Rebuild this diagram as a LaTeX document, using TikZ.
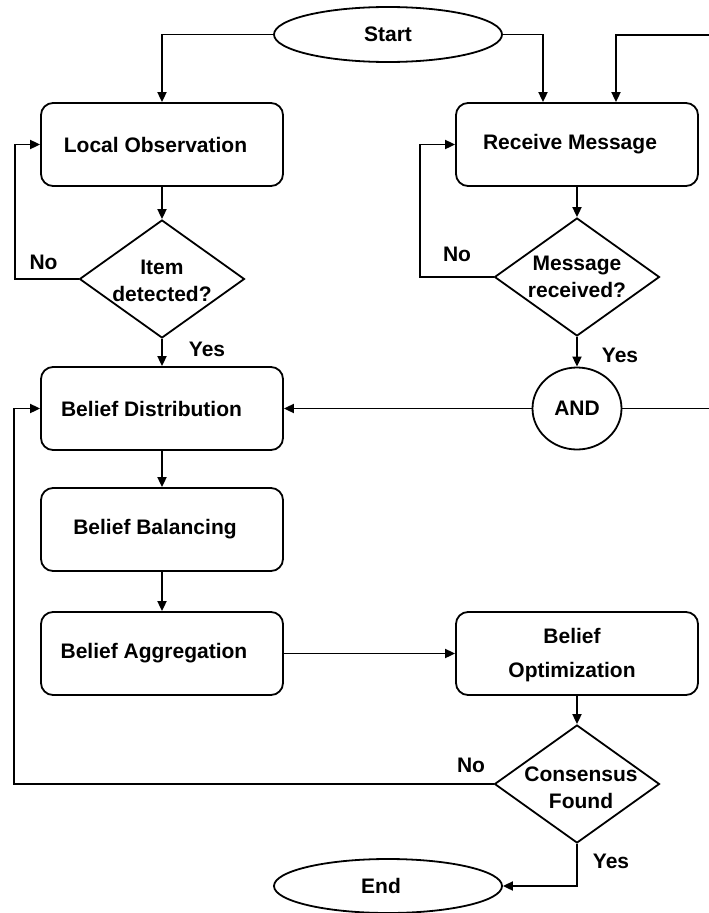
\documentclass[tikz,border=0pt]{standalone}
\usepackage{fontspec}
\setmainfont{Liberation Sans}
\usetikzlibrary{arrows.meta,shapes.geometric,calc}
\begin{document}
\begin{tikzpicture}[x=1pt,y=-1pt,
  every node/.style={font=\fontsize{21}{27}\selectfont\bfseries},
  box/.style={draw,line width=1.8pt,rectangle,rounded corners=12pt,minimum width=242pt,minimum height=83pt,inner sep=0pt},
  oval/.style={draw,line width=1.8pt,ellipse,minimum width=228pt,minimum height=55pt,inner sep=0pt},
  dia/.style={draw,line width=1.8pt,diamond,minimum width=165pt,minimum height=118pt,inner sep=0pt},
  lab/.style={align=center,inner sep=0pt},
  lbl/.style={inner sep=0pt},
  arr/.style={line width=1.8pt,-{Triangle[length=10pt,width=9pt]}},
  ln/.style={line width=1.8pt}]
\useasboundingbox (0,0) rectangle (709,913);

\node[oval] (start) at (388,34.5) {Start};
\node[box,label={[lab,xshift=-6.5pt]center:Local Observation}] (lo) at (162,144.5) {};
\node[box,label={[lab,xshift=-7pt]center:Receive Message}] (rm) at (577,144.5) {};
\node[dia,label={[lab,yshift=-2pt]center:Item\\detected?}] (item) at (162,279) {};
\node[dia,label={[lab]center:Message\\received?}] (msg) at (577,277) {};
\node[draw,line width=1.8pt,ellipse,minimum width=89pt,minimum height=82pt,inner sep=0pt] (and) at (577,408.5) {AND};
\node[box,label={[lab,xshift=-10.5pt]center:Belief Distribution}] (bd) at (162,408.5) {};
\node[box,label={[lab,xshift=-7pt]center:Belief Balancing}] (bb) at (162,529.5) {};
\node[box,label={[lab,xshift=-8pt]center:Belief Aggregation}] (ba) at (162,653.5) {};
\node[box,label={[lab,xshift=-5pt,yshift=-2pt,font=\fontsize{21}{34}\selectfont\bfseries]center:Belief\\Optimization}] (bo) at (577,653.5) {};
\node[dia,label={[lab,xshift=4pt,yshift=-4pt]center:Consensus\\Found}] (cf) at (577,784) {};
\node[oval,minimum height=54pt] (end) at (388,886) {\kern-14pt End};

\node[lbl] (no1) at (43.5,262) {No};
\node[lbl] (yes1) at (207,349.5) {Yes};
\node[lbl] (no2) at (457,254) {No};
\node[lbl] (yes2) at (620,355) {Yes};
\node[lbl] (no3) at (471,765.5) {No};
\node[lbl] (yes3) at (611,861.5) {Yes};

\coordinate (r1) at (712,408.5);
\coordinate (r2) at (712,35);

\draw[arr] (start.west) -| (lo.north);
\draw[arr] (start.east) -| ([xshift=-34pt]rm.north);
\draw[arr] (r2) -| ([xshift=39pt]rm.north);
\draw[arr] (lo.south) -- (item.north);
\draw[arr] (item.west) -- ++(-64,0) |- (lo.west);
\draw[arr] (item.south) -- (bd.north);
\draw[arr] (rm.south) -- (msg.north);
\draw[arr] (msg.west) -- ++(-74,0) |- (rm.west);
\draw[arr] (msg.south) -- (and.north);
\draw[arr] (and.west) -- (bd.east);
\draw[ln] (and.east) -- (r1);
\draw[arr] (bd.south) -- (bb.north);
\draw[arr] (bb.south) -- (ba.north);
\draw[arr] (ba.east) -- (bo.west);
\draw[arr] (bo.south) -- (cf.north);
\draw[arr] (cf.west) -- ++(-480,0) |- (bd.west);
\draw[arr] (cf.south) |- (end.east);
\end{tikzpicture}
\end{document}
